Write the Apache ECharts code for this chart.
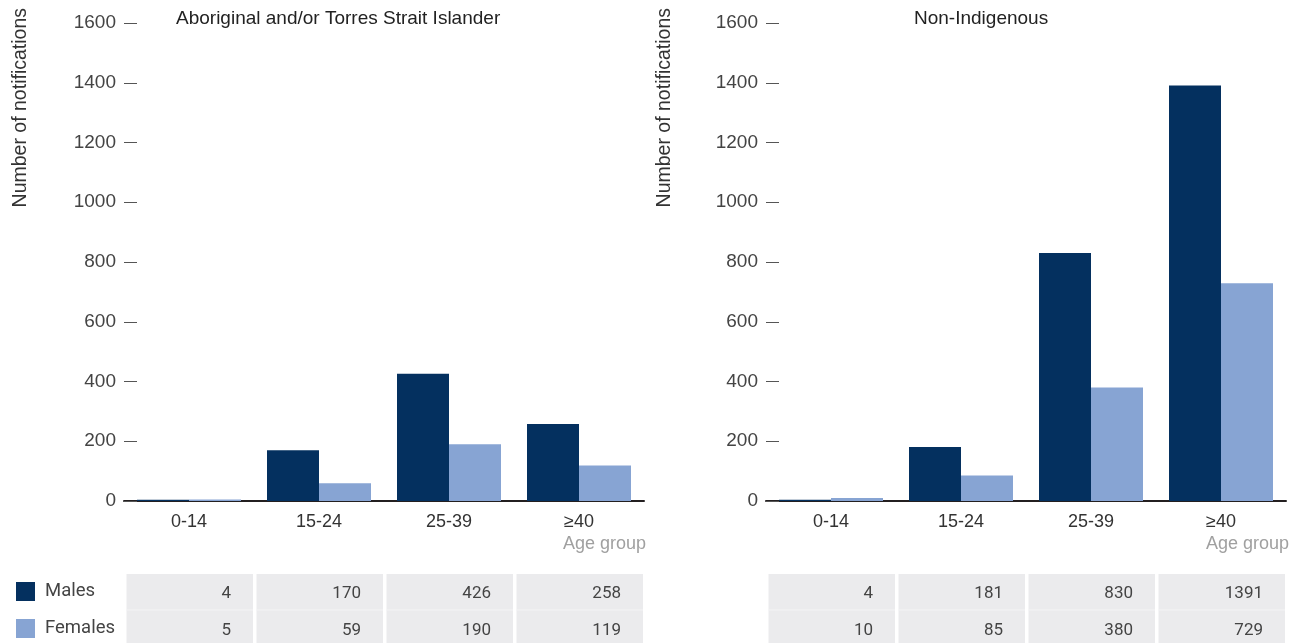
<!DOCTYPE html>
<html>
<head>
<meta charset="utf-8">
<script src="https://cdn.jsdelivr.net/npm/echarts@6/dist/echarts.min.js"></script>
<style>
  html, body { margin: 0; padding: 0; background: #fff; }
  #chart { width: 1290px; height: 643px; }
</style>
</head>
<body>
<div id="chart"></div>
<script>
// Notifications by age group and sex
const ageGroups = ['0-14', '15-24', '25-39', '\u226540'];
const panelTitles = ['Aboriginal and/or Torres Strait Islander', 'Non-Indigenous'];
const indigenousMales = [4, 170, 426, 258];
const indigenousFemales = [5, 59, 190, 119];
const nonIndigenousMales = [4, 181, 830, 1391];
const nonIndigenousFemales = [10, 85, 380, 729];
const yTicks = [0, 200, 400, 600, 800, 1000, 1200, 1400, 1600];

const MALE = '#04305f';
const FEMALE = '#87a4d3';
const SANS = '"Liberation Sans", Arial, sans-serif';
const TABLE_FONT = 'Roboto, "Liberation Sans", sans-serif';

const chart = echarts.init(document.getElementById('chart'), null, { renderer: 'canvas' });

const grids = [
  { left: 124, top: 23, width: 520, height: 478 },
  { left: 766, top: 23, width: 520, height: 478 }
];

function xAxisFor(i) {
  return {
    type: 'category', gridIndex: i, data: ageGroups,
    axisLine: { show: true, lineStyle: { color: '#231f20', width: 2 } },
    axisTick: { show: false },
    axisLabel: { color: '#333', fontSize: 18, fontFamily: SANS, margin: 12 },
    splitLine: { show: false }
  };
}
function yAxisFor(i) {
  return {
    type: 'value', gridIndex: i,
    min: yTicks[0], max: yTicks[yTicks.length - 1], interval: yTicks[1] - yTicks[0],
    axisLine: { show: false },
    axisTick: { show: true, inside: true, length: 13, lineStyle: { color: '#555', width: 1 } },
    axisLabel: { color: '#444', fontSize: 19, fontFamily: SANS, margin: 8, formatter: v => String(v) },
    splitLine: { show: false }
  };
}

// Data table cells under each panel, placed on the category bands of the x axis
function tableSeries(i, males, females) {
  return {
    type: 'custom', xAxisIndex: i, yAxisIndex: i, silent: true, clip: false, z: 1,
    data: ageGroups.map((g, k) => [k, males[k], females[k]]),
    renderItem: function (params, api) {
      const c = api.coord([api.value(0), 0]);
      const band = api.size([1, 0])[0];
      const x0 = c[0] - band / 2 + 2.5;
      const x1 = c[0] + band / 2 - 1;
      const top = c[1] + 73;
      const rowH = 37;
      const textStyle = { fontSize: 17, fontFamily: TABLE_FONT, fill: '#444', align: 'right', verticalAlign: 'middle' };
      return {
        type: 'group',
        children: [
          { type: 'rect', shape: { x: x0, y: top, width: x1 - x0, height: 80 }, style: { fill: '#ebebed' } },
          { type: 'line', shape: { x1: x0, y1: top + 36, x2: x1, y2: top + 36 }, style: { stroke: '#f4f4f5', lineWidth: 1 } },
          { type: 'text', style: Object.assign({ text: String(api.value(1)), x: x1 - 22, y: top + 20 }, textStyle) },
          { type: 'text', style: Object.assign({ text: String(api.value(2)), x: x1 - 22, y: top + 20 + rowH }, textStyle) }
        ]
      };
    }
  };
}

function barSeries(i, name, values, color) {
  return {
    name: name, type: 'bar', xAxisIndex: i, yAxisIndex: i, data: values,
    barGap: 0, barCategoryGap: '20%', itemStyle: { color: color }, z: 3
  };
}

const titleStyle = { fontSize: 19, fontWeight: 'normal', color: '#222', fontFamily: SANS };
const nameStyle = { text: 'Number of notifications', fontSize: 19.5, fontFamily: SANS, fill: '#333' };

const option = {
  animation: false,
  backgroundColor: '#fff',
  title: [
    { text: panelTitles[0], left: 176, top: 9, padding: 0, textStyle: titleStyle },
    { text: panelTitles[1], left: 914, top: 9, padding: 0, textStyle: titleStyle }
  ],
  legend: {
    data: ['Males', 'Females'], orient: 'vertical', left: 16, top: 582, padding: 0,
    itemWidth: 19, itemHeight: 19, itemGap: 18, icon: 'rect', selectedMode: false,
    textStyle: { fontSize: 18.5, color: '#444', fontFamily: TABLE_FONT, padding: [2, 0, 0, 5] }
  },
  grid: grids,
  xAxis: [xAxisFor(0), xAxisFor(1)],
  yAxis: [yAxisFor(0), yAxisFor(1)],
  graphic: [
    { type: 'text', left: 11, top: 8, rotation: Math.PI / 2, style: nameStyle },
    { type: 'text', left: 655, top: 8, rotation: Math.PI / 2, style: nameStyle },
    { type: 'text', right: 1290 - 646, top: 535,
      style: { text: 'Age group', fontSize: 18, fontFamily: SANS, fill: '#a0a0a0' } },
    { type: 'text', right: 1, top: 535,
      style: { text: 'Age group', fontSize: 18, fontFamily: SANS, fill: '#a0a0a0' } }
  ],
  series: [
    barSeries(0, 'Males', indigenousMales, MALE),
    barSeries(0, 'Females', indigenousFemales, FEMALE),
    barSeries(1, 'Males', nonIndigenousMales, MALE),
    barSeries(1, 'Females', nonIndigenousFemales, FEMALE),
    tableSeries(0, indigenousMales, indigenousFemales),
    tableSeries(1, nonIndigenousMales, nonIndigenousFemales)
  ]
};

chart.setOption(option);
</script>
</body>
</html>
